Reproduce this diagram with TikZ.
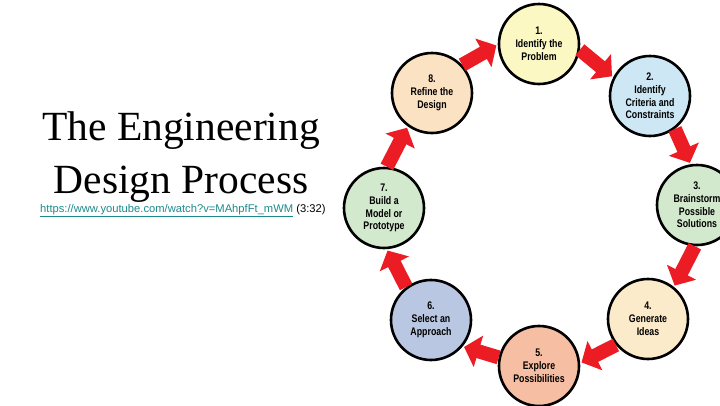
\documentclass[tikz,border=0pt]{standalone}
\usepackage{fontspec}
\setmainfont{Liberation Serif}
\newfontfamily\stagefont[FakeStretch=0.8]{Liberation Sans}
\newfontfamily\linkfont{Liberation Sans}
\usetikzlibrary{arrows.meta}
\definecolor{arrowred}{RGB}{236,28,36}
\definecolor{linkteal}{RGB}{28,138,140}
\definecolor{yellowfill}{RGB}{251,248,196}
\definecolor{bluefill}{RGB}{206,231,244}
\definecolor{greenfill}{RGB}{211,233,205}
\definecolor{creamfill}{RGB}{252,235,202}
\definecolor{salmonfill}{RGB}{246,190,162}
\definecolor{slatefill}{RGB}{186,199,226}
\definecolor{peachfill}{RGB}{250,226,194}
\tikzset{
x=1pt, y=-1pt,
stage/.style={circle, draw=black, line width=2.6pt, minimum size=80pt, inner sep=0pt,
  align=center, font=\stagefont\bfseries\fontsize{11}{12.8}\selectfont},
flow/.style={draw=arrowred, line width=14pt, -{Triangle[width=32pt,length=15pt]},
  shorten >=1.5pt},
}

\begin{document}
\begin{tikzpicture}
    \useasboundingbox (0,0) rectangle (720,405);

    \node[anchor=north, align=center, inner sep=0pt, font=\fontsize{41.5}{53}\selectfont] (title) at (181,112) {The Engineering\\Design Process};
    \node[anchor=base west, inner sep=0pt, font=\linkfont\fontsize{11.2}{13}\selectfont] (link) at (40,212)
        {\textcolor{linkteal}{\underline{https://www.youtube.com/watch?v=MAhpfFt\_mWM}} (3:32)};

    \node[stage, fill=yellowfill] (c1) at (539,44) {1.\\Identify the\\Problem};
    \node[stage, fill=bluefill] (c2) at (650,96) {2.\\Identify\\Criteria and\\Constraints};
    \node[stage, fill=greenfill] (c3) at (697,205) {3.\\Brainstorm\\Possible\\Solutions};
    \node[stage, fill=creamfill] (c4) at (648,319) {4.\\Generate\\Ideas};
    \node[stage, fill=salmonfill] (c5) at (539,366) {5.\\Explore\\Possibilities};
    \node[stage, fill=slatefill] (c6) at (431,320) {6.\\Select an\\Approach};
    \node[stage, fill=greenfill] (c7) at (384,208) {7.\\Build a\\Model or\\Prototype};
    \node[stage, fill=peachfill] (c8) at (432,93) {8.\\Refine the\\Design};

    \draw (c8.43) edge[flow] (c1.181);
    \draw (c1.-8) edge[flow] (c2.153);
    \draw (c2.-53) edge[flow] (c3.99);
    \draw (c3.-93) edge[flow] (c4.51);
    \draw (c4.-141) edge[flow] (c5.4);
    \draw (c5.168) edge[flow] (c6.-40);
    \draw (c6.127) edge[flow] (c7.-86);
    \draw (c7.86) edge[flow] (c8.-126);

\end{tikzpicture}
\end{document}
